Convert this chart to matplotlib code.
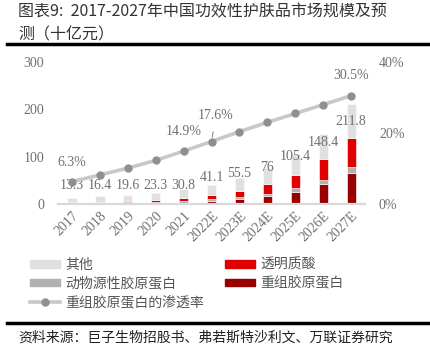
import matplotlib
matplotlib.use('Agg')
import matplotlib.pyplot as plt
from matplotlib.patches import Patch
from matplotlib.lines import Line2D
import numpy as np

years = ['2017', '2018', '2019', '2020', '2021', '2022E', '2023E', '2024E', '2025E', '2026E', '2027E']
totals = [13.3, 16.4, 19.6, 23.3, 30.8, 41.1, 55.5, 76, 105.4, 148.4, 211.8]
recomb = [0.1, 0.2, 0.3, 0.5, 2.5, 7.0, 10.6, 16.2, 24.6, 41.6, 65.0]
animal = [2.0, 2.5, 3.0, 3.0, 3.0, 2.5, 3.5, 5.0, 8.5, 9.2, 12.7]
hyaluronic = [1.8, 2.5, 3.5, 5.5, 8.0, 10.5, 14.0, 20.4, 28.9, 43.7, 62.7]
other = [t - a - b - c for t, a, b, c in zip(totals, recomb, animal, hyaluronic)]
penetration = [6.3, 8.2, 10.1, 12.3, 14.9, 17.6, 20.4, 23.0, 25.5, 28.0, 30.5]
pct_shown = {0: '6.3%', 4: '14.9%', 5: '17.6%', 10: '30.5%'}

# 数据标签的摆放高度（左轴单位），参照原图手工摆放
label_y = [40, 40, 40, 40, 40, 55, 65, 78, 100, 129, 174]
pct_label_pos = {0: (0, 11.8), 4: (4.0, 20.4), 5: (5.15, 24.9), 10: (10, 36.1)}

C_OTHER = '#e0e0e0'
C_ANIMAL = '#b1b1b1'
C_HA = '#e00000'
C_RECOMB = '#990000'
C_TXT = '#707070'
NUM_FONT = ['Liberation Serif', 'Noto Sans CJK SC']
CN_FONT = ['Noto Sans CJK SC', 'DejaVu Sans']

plt.rcParams['font.family'] = CN_FONT

fig = plt.figure(figsize=(4.3, 3.57), dpi=100)
ax = fig.add_axes([0.135, 0.4286, 0.714, 0.3977])
ax2 = ax.twinx()

x = np.arange(len(years))
w = 0.33
kw = dict(width=w, edgecolor='white', linewidth=0.4, zorder=2)
bottom = np.zeros(len(x))
for vals, col in [(recomb, C_RECOMB), (animal, C_ANIMAL), (hyaluronic, C_HA), (other, C_OTHER)]:
    ax.bar(x, vals, bottom=bottom, color=col, **kw)
    bottom += np.array(vals)

for i, t in enumerate(totals):
    s = f'{t:g}'
    ax.text(x[i], label_y[i], s, ha='center', va='center', fontsize=10,
            color=C_TXT, family=NUM_FONT, zorder=5)

ax.set_xlim(-0.5, len(x) - 0.5)
ax.set_ylim(0, 300)
ax.set_yticks([0, 100, 200, 300])
ax.set_xticks(x)
ax.set_xticklabels(years, rotation=45, ha='right', rotation_mode='anchor',
                   family=NUM_FONT, fontsize=10, color=C_TXT)
for lab in ax.get_yticklabels():
    lab.set_family(NUM_FONT)
    lab.set_fontsize(10)
    lab.set_color(C_TXT)
ax.tick_params(axis='both', length=0, pad=10)
ax.tick_params(axis='x', pad=4)
for sp in ['top', 'left', 'right']:
    ax.spines[sp].set_visible(False)
ax.spines['bottom'].set_color('#d9d9d9')
ax.spines['bottom'].set_linewidth(1.6)

ax2.plot(x, penetration, '-', color='#c8c8c8', linewidth=2.6, zorder=3)
ax2.plot(x, penetration, 'o', color='#8f8f8f', markersize=5, zorder=4)
ax2.set_ylim(0, 40)
ax2.set_yticks([0, 20, 40])
ax2.set_yticklabels(['0%', '20%', '40%'], family=NUM_FONT, fontsize=10, color=C_TXT)
ax2.tick_params(axis='y', length=0, pad=10)
for sp in ['top', 'left', 'right', 'bottom']:
    ax2.spines[sp].set_visible(False)

for i, s in pct_shown.items():
    px, py = pct_label_pos[i]
    if i == 5:
        ax2.annotate(s, xy=(x[i], penetration[i]), xytext=(px, py), ha='center', va='center',
                     fontsize=10, color=C_TXT, family=NUM_FONT,
                     arrowprops=dict(arrowstyle='-', color='#7f7f7f', lw=0.7, shrinkA=5, shrinkB=3))
    else:
        ax2.text(px, py, s, ha='center', va='center', fontsize=10, color=C_TXT, family=NUM_FONT)

# 标题
fig.text(0.042, 0.966, '图表9:  2017-2027年中国功效性护肤品市场规模及预', fontsize=11.5,
         va='center', ha='left', color='#333333')
fig.text(0.042, 0.903, '测（十亿元）', fontsize=11.5, va='center', ha='left', color='#333333')
fig.add_artist(Line2D([0.016, 1.0], [0.878, 0.878], color='black', linewidth=2.5,
                      transform=fig.transFigure))

# 图例
handles = [
    Patch(color=C_OTHER, label='其他'),
    Patch(color=C_ANIMAL, label='动物源性胶原蛋白'),
    Line2D([], [], color='#c8c8c8', lw=2.6, marker='o', markersize=5,
           markerfacecolor='#8f8f8f', markeredgecolor='#8f8f8f', label='重组胶原蛋白的渗透率'),
    Patch(color=C_HA, label='透明质酸'),
    Patch(color=C_RECOMB, label='重组胶原蛋白'),
]
fig.legend(handles=handles, ncol=2, loc='upper left', bbox_to_anchor=(0.04, 0.313),
           frameon=False, fontsize=10, handlelength=2.2, handleheight=0.45,
           columnspacing=1.5, labelspacing=0.35, handletextpad=0.35,
           labelcolor='#555555')

fig.add_artist(Line2D([0.016, 1.0], [0.095, 0.095], color='black', linewidth=2.5,
                      transform=fig.transFigure))
fig.text(0.042, 0.053, '资料来源：巨子生物招股书、弗若斯特沙利文、万联证券研究', fontsize=10,
         va='center', ha='left', color='#222222', style='italic')

plt.savefig('out.png', dpi=100)
print('Saved to out.png')
